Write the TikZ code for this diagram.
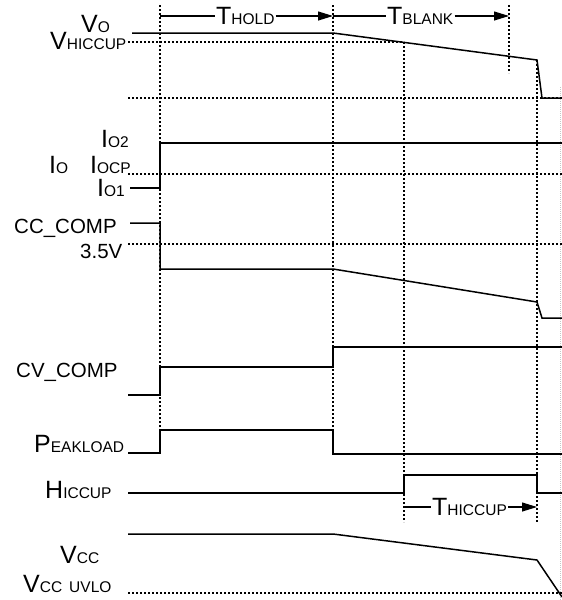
\documentclass[tikz,border=0pt]{standalone}
\usepackage{fontspec}
\setmainfont{Liberation Sans}
\usetikzlibrary{arrows.meta}

\newcommand{\figbig}[1]{{\fontsize{25}{25}\selectfont #1}}
\newcommand{\figsmall}[1]{{\fontsize{15.5}{15.5}\selectfont #1}}

\tikzset{
  wave/.style={line width=1.5pt, line join=miter},
  gridline/.style={line width=1.2pt, dash pattern=on 2.2pt off 1.8pt},
  timeline/.style={line width=1.1pt},
  timearrow/.style={timeline, -{Triangle[length=15pt,width=9pt]}},
  lbl/.style={inner sep=0pt, anchor=base west, font=\fontsize{20.5}{20.5}\selectfont},
  tlbl/.style={inner xsep=1pt, inner ysep=0pt, anchor=west},
}

\begin{document}
\begin{tikzpicture}[x=1pt,y=-1pt]
        \newcommand{\figtxa}{160}
        \newcommand{\figtxb}{333}
        \newcommand{\figtxc}{404}
        \newcommand{\figtxd}{509}
        \newcommand{\figtxe}{537}
        \newcommand{\figtxend}{562}
        \newcommand{\figtxlbl}{128}
        \useasboundingbox (0,0) rectangle (562,600);
        % time markers
        \draw[gridline] (\figtxa,5) -- (\figtxa,453);
        \draw[gridline] (\figtxb,5) -- (\figtxb,453);
        \draw[gridline] (\figtxc,42) -- (\figtxc,522);
        \draw[gridline] (\figtxd,5) -- (\figtxd,73);
        \draw[gridline] (\figtxe,60) -- (\figtxe,522);
        \draw[gridline, gray!45, line width=0.8pt, dash pattern=on 1pt off 1pt] (560,87) -- (560,600);
        % levels
        \draw[gridline] (\figtxlbl,42) -- (\figtxc,42);
        \draw[gridline] (\figtxlbl,98) -- (\figtxend,98);
        \draw[gridline] (\figtxlbl,174) -- (\figtxend,174);
        \draw[gridline] (\figtxlbl,244) -- (\figtxend,244);
        \draw[gridline] (\figtxlbl,593) -- (\figtxend,593);
        % durations
        \coordinate (tholdL) at (\figtxa,16);
        \coordinate (tholdR) at (\figtxb,16);
        \node[tlbl] (thold) at (215,16) {\figbig{T}\figsmall{HOLD}};
        \draw[timeline] (tholdL) -- (thold.west);
        \draw[timearrow] (thold.east) -- (tholdR);
        \coordinate (tblankL) at (\figtxb,16);
        \coordinate (tblankR) at (\figtxd,16);
        \node[tlbl] (tblank) at (386,16) {\figbig{T}\figsmall{BLANK}};
        \draw[timeline] (tblankL) -- (tblank.west);
        \draw[timearrow] (tblank.east) -- (tblankR);
        \coordinate (thiccupL) at (\figtxc,507);
        \coordinate (thiccupR) at (\figtxe,507);
        \node[tlbl] (thiccup) at (431,507) {\figbig{T}\figsmall{HICCUP}};
        \draw[timeline] (thiccupL) -- (thiccup.west);
        \draw[timearrow] (thiccup.east) -- (thiccupR);
        % waveforms
        \draw[wave] (132,33) -- (\figtxb,33) -- (\figtxe,60) -- (542,98) -- (\figtxend,98);
        \draw[wave] (130,188) -- (\figtxa,188) -- (\figtxa,143) -- (\figtxend,143);
        \draw[wave] (130,223) -- (\figtxa,223) -- (\figtxa,269) -- (\figtxb,269) -- (\figtxe,302) -- (542,318) -- (\figtxend,318);
        \draw[wave] (\figtxlbl,395) -- (\figtxa,395) -- (\figtxa,367) -- (\figtxb,367) -- (\figtxb,347) -- (\figtxend,347);
        \draw[wave] (\figtxlbl,453) -- (\figtxa,453) -- (\figtxa,430) -- (\figtxb,430) -- (\figtxb,454) -- (\figtxend,454);
        \draw[wave] (\figtxlbl,493) -- (\figtxc,493) -- (\figtxc,475) -- (\figtxe,475) -- (\figtxe,493) -- (\figtxend,493);
        \draw[wave] (\figtxlbl,534) -- (\figtxb,534) -- (\figtxe,560) -- (\figtxend,597);
        % labels
        \node[lbl] (vo) at (81,32) {\figbig{V}\figsmall{O}};
        \node[lbl] (vhiccup) at (50,49) {\figbig{V}\figsmall{HICCUP}};
        \node[lbl] (io2) at (101,147) {\figbig{I}\figsmall{O2}};
        \node[lbl] (io) at (49,173) {\figbig{I}\figsmall{O}};
        \node[lbl] (iocp) at (90,173) {\figbig{I}\figsmall{OCP}};
        \node[lbl] (io1) at (97,196) {\figbig{I}\figsmall{O1}};
        \node[lbl] (cccomp) at (14,233) {CC\_COMP};
        \node[lbl] (ccref) at (80,258) {3.5V};
        \node[lbl] (cvcomp) at (16,377) {CV\_COMP};
        \node[lbl] (peakload) at (34,452) {\figbig{P}\figsmall{EAKLOAD}};
        \node[lbl] (hiccup) at (45,498) {\figbig{H}\figsmall{ICCUP}};
        \node[lbl] (vcc) at (60,563) {\figbig{V}\figsmall{CC}};
        \node[lbl] (vccuvlo) at (23,592) {\figbig{V}\figsmall{CC\hspace{7pt}UVLO}};
    \end{tikzpicture}
\end{document}
